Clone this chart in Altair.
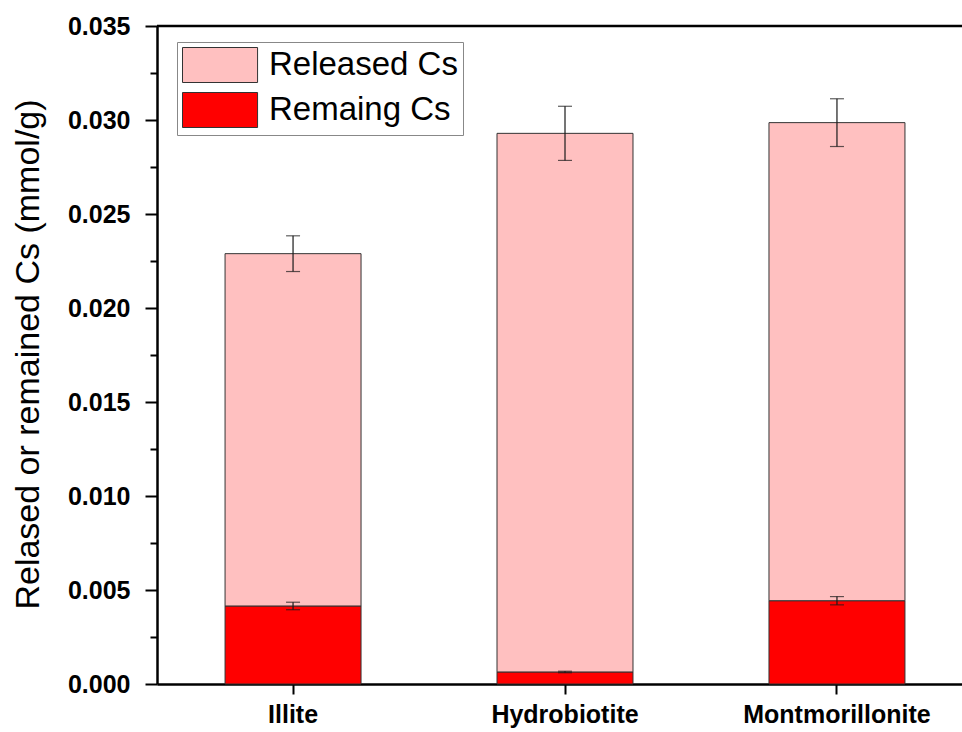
import altair as alt
import pandas as pd

# ---- data ----
minerals = ["Illite", "Hydrobiotite", "Montmorillonite"]
remaining = [0.00415, 0.00064, 0.00443]
remaining_err = [0.00020, 0.00004, 0.00022]
released = [0.01874, 0.02865, 0.02543]
released_err = [0.00095, 0.00144, 0.00127]
series = ["Released Cs", "Remaing Cs"]
colors = ["#FFC0C0", "#FF0000"]
y_ticks = [0.000, 0.005, 0.010, 0.015, 0.020, 0.025, 0.030, 0.035]
y_minor = [0.0025, 0.0075, 0.0125, 0.0175, 0.0225, 0.0275, 0.0325]

rows = []
for i, m in enumerate(minerals):
    rows.append(dict(mineral=m, series="Remaing Cs", ord=0, value=remaining[i],
                     top=remaining[i], err=remaining_err[i]))
    rows.append(dict(mineral=m, series="Released Cs", ord=1, value=released[i],
                     top=remaining[i] + released[i], err=released_err[i]))
df = pd.DataFrame(rows)

FONT = "Liberation Sans"
yscale = alt.Scale(domain=[0, 0.035], nice=False, zero=True)
xscale = alt.Scale(paddingInner=0.5, paddingOuter=0.23, align=0.544)

x_axis = alt.Axis(title=None, labelAngle=0, tickSize=10, labelPadding=8,
                  labelFontSize=25, labelFontWeight="bold", labelFont=FONT,
                  labelColor="black", domainColor="black", domainWidth=2.5,
                  tickColor="black", tickWidth=2, grid=False, labelLimit=400,
                  labelOverlap=False)

base = alt.Chart(df)

bars = base.mark_bar(stroke="#333333", strokeWidth=1).encode(
    x=alt.X("mineral:N", sort=minerals, scale=xscale, axis=x_axis),
    y=alt.Y("value:Q", stack="zero", scale=yscale,
            axis=alt.Axis(values=y_ticks, format=".3f", tickSize=12, labelPadding=15,
                          labelFontSize=25, labelFontWeight="bold", labelFont=FONT,
                          labelColor="black", domainColor="black", domainWidth=2.5,
                          tickColor="black", tickWidth=2, grid=False, orient="left",
                          title="Relased or remained Cs (mmol/g)", titleFont=FONT,
                          titleFontSize=34, titleFontWeight="normal", titleColor="black",
                          titleX=-112, titleY=328, titleAngle=270,
                          titleBaseline="bottom", titleAlign="center", titleLimit=800)),
    color=alt.Color("series:N", scale=alt.Scale(domain=series, range=colors),
                    legend=alt.Legend(title=None, orient="none", legendX=20, legendY=16,
                                      symbolType="M-1,-1H3.29V1H-1Z", symbolSize=1225,
                                      symbolStrokeColor="#333333", symbolStrokeWidth=1,
                                      symbolOpacity=1, labelFont=FONT, labelFontSize=33,
                                      labelColor="black", labelOffset=51, labelLimit=400,
                                      padding=5, rowPadding=5, strokeColor="#888888",
                                      fillColor="white")),
    order=alt.Order("ord:Q", sort="ascending"),
)

err_rule = base.mark_rule(color="#1a1a1a", strokeWidth=1.2).transform_calculate(
    lo="datum.top - datum.err", hi="datum.top + datum.err"
).encode(
    x=alt.X("mineral:N", sort=minerals, scale=xscale, axis=x_axis),
    y=alt.Y("lo:Q", scale=yscale, axis=None),
    y2="hi:Q",
)

cap_lo = base.mark_tick(color="#1a1a1a", size=14, thickness=1.2).transform_calculate(
    lo="datum.top - datum.err"
).encode(
    x=alt.X("mineral:N", sort=minerals, scale=xscale, axis=x_axis),
    y=alt.Y("lo:Q", scale=yscale, axis=None),
)
cap_hi = base.mark_tick(color="#1a1a1a", size=14, thickness=1.2).transform_calculate(
    hi="datum.top + datum.err"
).encode(
    x=alt.X("mineral:N", sort=minerals, scale=xscale, axis=x_axis),
    y=alt.Y("hi:Q", scale=yscale, axis=None),
)

top_line = alt.Chart(pd.DataFrame({"v": [0.035]})).mark_rule(
    color="black", strokeWidth=2.5
).encode(
    y=alt.Y("v:Q", scale=yscale,
            axis=alt.Axis(values=y_minor, labels=False, domain=False, tickSize=7,
                          tickColor="black", tickWidth=2, grid=False, title=None,
                          orient="left")),
)

chart = alt.layer(bars, err_rule, cap_lo, cap_hi, top_line).resolve_axis(
    y="independent"
).properties(
    width=805, height=658,
    autosize=alt.AutoSizeParams(type="none"),
    padding={"left": 157, "top": 26, "right": 0, "bottom": 48},
    background="white",
).configure_view(stroke=None)

chart.save("out.html", embed_options={"renderer": "svg", "actions": False})
